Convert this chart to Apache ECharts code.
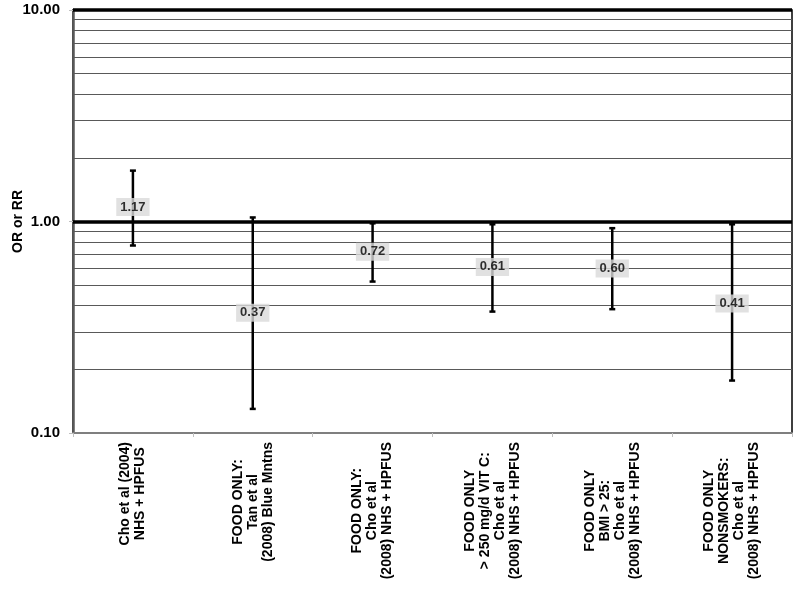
<!DOCTYPE html>
<html>
<head>
<meta charset="utf-8">
<script src="https://cdn.jsdelivr.net/npm/echarts@6/dist/echarts.min.js"></script>
<style>html,body{margin:0;padding:0;background:#fff}#c{width:800px;height:589px}</style>
</head>
<body>
<div id="c"></div>
<script>
var categories = [
  "Cho et al (2004)\nNHS + HPFUS",
  "FOOD ONLY:\nTan et al\n(2008) Blue Mntns",
  "FOOD ONLY:\nCho et al\n(2008) NHS + HPFUS",
  "FOOD ONLY\n> 250 mg/d VIT C:\nCho et al\n(2008) NHS + HPFUS",
  "FOOD ONLY\nBMI > 25:\nCho et al\n(2008) NHS + HPFUS",
  "FOOD ONLY\nNONSMOKERS:\nCho et al\n(2008) NHS + HPFUS"
];
var estimates = [1.17, 0.37, 0.72, 0.61, 0.60, 0.41];
var lowerCI = [0.77, 0.13, 0.52, 0.375, 0.385, 0.177];
var upperCI = [1.74, 1.045, 0.98, 0.97, 0.93, 0.97];
var majorGrid = [1, 10];
var minorGrid = [0.2, 0.3, 0.4, 0.5, 0.6, 0.7, 0.8, 0.9, 2, 3, 4, 5, 6, 7, 8, 9];

var FONT = 'Arial, "Liberation Sans", sans-serif';
var chart = echarts.init(document.getElementById('c'), null, {renderer: 'canvas'});

var errData = categories.map(function (c, i) { return [i, lowerCI[i], upperCI[i]]; });
var ptData = categories.map(function (c, i) { return [i, estimates[i]]; });

chart.setOption({
  animation: false,
  backgroundColor: '#fff',
  grid: {left: 73, right: 8, top: 10, bottom: 156, containLabel: false, outerBoundsMode: 'none',
         show: true, borderColor: '#000', borderWidth: 1.5, backgroundColor: 'transparent'},
  xAxis: {
    type: 'category',
    data: categories,
    boundaryGap: true,
    axisLine: {lineStyle: {color: '#7f7f7f', width: 2}},
    axisTick: {show: true, length: 4, lineStyle: {color: '#bfbfbf', width: 1}},
    axisLabel: {
      interval: 0,
      rotate: 90,
      margin: 9,
      align: 'right',
      verticalAlign: 'middle',
      hideOverlap: false,
      formatter: function (v) {
        return v.split('\n').map(function (l) { return '{c|' + l + '}'; }).join('\n');
      },
      rich: {c: {align: 'center', fontWeight: 'bold', fontSize: 14, lineHeight: 15, color: '#000', fontFamily: FONT}}
    },
    splitLine: {show: false}
  },
  yAxis: {
    type: 'log',
    logBase: 10,
    min: 0.1,
    max: 10,
    name: 'OR or RR',
    nameLocation: 'middle',
    nameRotate: 90,
    nameGap: 48,
    nameMoveOverlap: false,
    nameTextStyle: {fontWeight: 'bold', fontSize: 14, color: '#000', fontFamily: FONT},
    axisLine: {show: true, lineStyle: {color: '#595959', width: 2.5}},
    axisTick: {show: true, length: 4, lineStyle: {color: '#bfbfbf'}},
    axisLabel: {
      fontWeight: 'bold', fontSize: 15, color: '#000', fontFamily: FONT, margin: 13,
      formatter: function (v) { return Number(v).toFixed(2); }
    },
    splitLine: {show: false}
  },
  series: [
    {
      type: 'line',
      data: [],
      silent: true,
      markLine: {
        silent: true,
        symbol: 'none',
        label: {show: false},
        lineStyle: {color: '#595959', width: 1.2, type: 'solid'},
        data: minorGrid.map(function (v) { return {yAxis: v}; })
      },
      z: 1
    },
    {
      type: 'line',
      data: [],
      silent: true,
      markLine: {
        silent: true,
        symbol: 'none',
        label: {show: false},
        lineStyle: {color: '#000', width: 3.5, type: 'solid'},
        data: majorGrid.map(function (v) { return {yAxis: v}; })
      },
      z: 2
    },
    {
      type: 'custom',
      data: errData,
      z: 5,
      renderItem: function (params, api) {
        var x = api.value(0);
        var lo = api.coord([x, api.value(1)]);
        var hi = api.coord([x, api.value(2)]);
        var hw = 3;
        var st = {stroke: '#000', lineWidth: 2.5};
        return {
          type: 'group',
          children: [
            {type: 'line', shape: {x1: lo[0], y1: lo[1], x2: hi[0], y2: hi[1]}, style: st},
            {type: 'line', shape: {x1: lo[0] - hw, y1: lo[1], x2: lo[0] + hw, y2: lo[1]}, style: st},
            {type: 'line', shape: {x1: hi[0] - hw, y1: hi[1], x2: hi[0] + hw, y2: hi[1]}, style: st}
          ]
        };
      }
    },
    {
      type: 'scatter',
      data: ptData,
      symbolSize: 0,
      z: 10,
      label: {
        show: true,
        position: 'inside',
        formatter: function (p) { return Number(p.value[1]).toFixed(2); },
        backgroundColor: '#d9d9d9',
        padding: [3, 4, 2, 4],
        fontWeight: 'bold',
        fontSize: 13,
        color: '#000',
        fontFamily: FONT
      }
    }
  ]
});
</script>
</body>
</html>
